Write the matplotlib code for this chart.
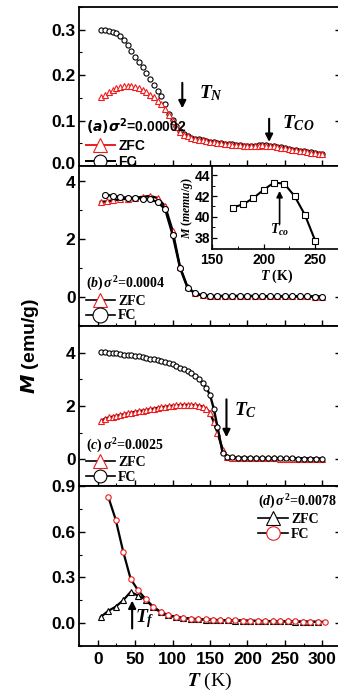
import matplotlib
matplotlib.use('Agg')
import matplotlib.pyplot as plt
import matplotlib.transforms as mtransforms
from matplotlib.ticker import MultipleLocator, FixedLocator
from matplotlib.font_manager import FontProperties

plt.rcParams['font.family'] = ['Liberation Sans', 'DejaVu Sans']
plt.rcParams['font.weight'] = 'bold'
plt.rcParams['mathtext.fontset'] = 'custom'
plt.rcParams['mathtext.rm'] = 'Liberation Serif:bold'
plt.rcParams['mathtext.it'] = 'Liberation Serif:italic:bold'
plt.rcParams['mathtext.bf'] = 'Liberation Serif:bold'

RED = '#ee1c1c'

# ---------------- data ----------------
# (a) sigma^2 = 0.00002
T_a = [5, 10, 15, 20, 25, 30, 35, 40, 45, 50, 55, 60, 65, 70, 75, 80, 85, 90, 95, 100,
       105, 110, 115, 120, 125, 130, 135, 140, 145, 150, 155, 160, 165, 170, 175, 180, 185, 190, 195, 200,
       205, 210, 215, 220, 225, 230, 235, 240, 245, 250, 255, 260, 265, 270, 275, 280, 285, 290, 295, 300]
FC_a = [0.300, 0.299, 0.298, 0.296, 0.293, 0.286, 0.277, 0.266, 0.253, 0.241,
        0.229, 0.218, 0.204, 0.191, 0.178, 0.166, 0.153, 0.136, 0.115, 0.102,
        0.087, 0.076, 0.070, 0.066, 0.062, 0.060, 0.059, 0.058, 0.055, 0.053,
        0.052, 0.051, 0.050, 0.049, 0.048, 0.048, 0.047, 0.046, 0.045, 0.045,
        0.044, 0.045, 0.046, 0.046, 0.046, 0.045, 0.043, 0.042, 0.041, 0.039,
        0.038, 0.036, 0.035, 0.034, 0.032, 0.031, 0.030, 0.028, 0.027, 0.026]
ZFC_a = [0.152, 0.157, 0.162, 0.167, 0.171, 0.174, 0.176, 0.177, 0.176, 0.174,
         0.171, 0.168, 0.163, 0.157, 0.151, 0.144, 0.136, 0.125, 0.113, 0.100,
         0.086, 0.075, 0.069, 0.065, 0.061, 0.059, 0.058, 0.057, 0.055, 0.053,
         0.052, 0.051, 0.050, 0.049, 0.048, 0.047, 0.046, 0.046, 0.045, 0.044,
         0.044, 0.045, 0.045, 0.046, 0.045, 0.044, 0.043, 0.041, 0.040, 0.039,
         0.037, 0.036, 0.035, 0.033, 0.032, 0.031, 0.029, 0.028, 0.027, 0.026]

# (b) sigma^2 = 0.0004
T_b_fc = [10, 20, 30, 40, 50, 60, 70, 80, 90, 100, 110, 120, 130, 140, 150,
          160, 170, 180, 190, 200, 210, 220, 230, 240, 250, 260, 270, 280, 290, 300]
FC_b = [3.52, 3.47, 3.43, 3.41, 3.40, 3.38, 3.35, 3.26, 3.02, 2.14,
        1.00, 0.32, 0.12, 0.05, 0.03, 0.03, 0.03, 0.03, 0.03, 0.03,
        0.03, 0.02, 0.02, 0.02, 0.02, 0.02, 0.02, 0.02, 0.01, 0.01]
T_b_zfc = [4, 12, 20, 30, 40, 50, 60, 70, 80, 90, 100, 110, 120, 130, 140, 150,
           160, 170, 180, 190, 200, 210, 220, 230, 240, 250, 260, 270, 280, 290, 300]
ZFC_b = [3.27, 3.28, 3.32, 3.35, 3.38, 3.41, 3.44, 3.47, 3.40, 3.12, 2.28,
         1.02, 0.33, 0.12, 0.05, 0.03, 0.03, 0.03, 0.03, 0.03, 0.03,
         0.03, 0.02, 0.02, 0.02, 0.02, 0.02, 0.02, 0.02, 0.01, 0.01]

# inset of (b)
T_in = [170, 180, 190, 200, 210, 220, 230, 240, 250]
M_in = [40.9, 41.2, 41.8, 42.6, 43.3, 43.2, 42.0, 40.2, 37.7]

# (c) sigma^2 = 0.0025
T_c = [5, 10, 15, 20, 25, 30, 35, 40, 45, 50, 55, 60, 65, 70, 75, 80, 85, 90, 95, 100,
       105, 110, 115, 120, 125, 130, 135, 140, 145, 150, 155, 160, 167, 173,
       180, 188, 196, 204, 212, 220, 228, 236, 244, 252, 260, 268, 276, 284, 292, 300]
FC_c = [4.02, 4.01, 4.00, 3.98, 3.97, 3.95, 3.93, 3.92, 3.90, 3.88,
        3.86, 3.84, 3.81, 3.78, 3.75, 3.72, 3.69, 3.65, 3.61, 3.57,
        3.51, 3.44, 3.37, 3.30, 3.22, 3.12, 3.02, 2.87, 2.68, 2.42,
        1.90, 1.22, 0.22, 0.10,
        0.07, 0.06, 0.06, 0.05, 0.05, 0.05, 0.05, 0.04, 0.04, 0.04, 0.04, 0.03, 0.03, 0.03, 0.03, 0.02]
ZFC_c = [1.45, 1.53, 1.57, 1.60, 1.63, 1.66, 1.69, 1.72, 1.75, 1.78,
         1.80, 1.83, 1.85, 1.88, 1.90, 1.93, 1.95, 1.97, 1.99, 2.01,
         2.02, 2.03, 2.04, 2.04, 2.04, 2.03, 2.01, 1.98, 1.90, 1.75,
         1.40, 1.00, 0.36, 0.10,
         0.06, 0.05, 0.05, 0.05, 0.04, 0.04, 0.04, 0.04, 0.03, 0.03, 0.03, 0.03, 0.03, 0.02, 0.02, 0.02]

# (d) sigma^2 = 0.0078
T_d_fc = [14, 24, 34, 44, 54, 64, 74, 84, 94, 104, 114, 124, 134, 144, 154,
          164, 174, 184, 194, 204, 214, 224, 234, 244, 254, 264, 274, 284, 294, 304]
FC_d = [0.83, 0.68, 0.47, 0.29, 0.215, 0.158, 0.107, 0.074, 0.053, 0.042,
        0.035, 0.030, 0.026, 0.024, 0.022, 0.020, 0.019, 0.018, 0.017, 0.016,
        0.015, 0.014, 0.013, 0.012, 0.012, 0.011, 0.010, 0.010, 0.009, 0.008]
T_d_zfc = [4, 14, 24, 34, 44, 54, 64, 74, 84, 94, 104, 114, 124, 134, 144,
           154, 164, 174, 184, 194, 204, 214, 224, 234, 244, 254, 264, 274, 284, 294]
ZFC_d = [0.040, 0.080, 0.108, 0.150, 0.205, 0.180, 0.155, 0.105, 0.072, 0.051,
         0.040, 0.033, 0.028, 0.025, 0.023, 0.021, 0.019, 0.018, 0.017, 0.016,
         0.015, 0.014, 0.013, 0.012, 0.011, 0.011, 0.010, 0.009, 0.009, 0.008]

titles = [r'$(a)\sigma^{2}$=0.00002', r'$(b)\,\sigma^{2}$=0.0004',
          r'$(c)\,\sigma^{2}$=0.0025', r'$(d)\,\sigma^{2}$=0.0078']
ylims = [(0, 0.35), (-1, 4.5), (-1, 5), (-0.15, 0.9)]
yticks = [[0.0, 0.1, 0.2, 0.3], [0, 2, 4], [0, 2, 4], [0.0, 0.3, 0.6, 0.9]]
yticklabels = [['0.0', '0.1', '0.2', '0.3'], ['0', '2', '4'], ['0', '2', '4'],
               ['0.0', '0.3', '0.6', '0.9']]
yminor = [0.05, 1, 1, 0.15]

# ---------------- figure ----------------
W_PX, H_PX = 338, 698
fig = plt.figure(figsize=(W_PX / 100, H_PX / 100), dpi=100)

left = 79 / W_PX
width = 262 / W_PX
panel_px = [(7, 166), (166, 326), (326, 486), (486, 646)]
axes = []
for (t, b) in panel_px:
    ax = fig.add_axes([left, 1 - b / H_PX, width, (b - t) / H_PX])
    axes.append(ax)

serif_b = FontProperties(family='Liberation Serif', weight='bold', size=10)
sans_b = FontProperties(family='Liberation Sans', weight='bold', size=10)

for i, ax in enumerate(axes):
    ax.set_xlim(-25, 325)
    ax.set_ylim(*ylims[i])
    ax.xaxis.set_major_locator(MultipleLocator(50))
    ax.xaxis.set_minor_locator(MultipleLocator(25))
    ax.yaxis.set_major_locator(FixedLocator(yticks[i]))
    ax.set_yticklabels(yticklabels[i])
    ax.yaxis.set_minor_locator(MultipleLocator(yminor[i]))
    ax.tick_params(axis='both', which='both', direction='in', top=False, right=True)
    ax.tick_params(axis='both', which='major', length=4.5, width=1.0)
    ax.tick_params(axis='both', which='minor', length=2.5, width=0.8)
    ax.tick_params(axis='y', labelsize=12.5, pad=2.5)
    ax.tick_params(axis='x', labelsize=12.5, pad=4)
    for sp in ax.spines.values():
        sp.set_linewidth(1.3)
    if i < 3:
        ax.tick_params(axis='x', labelbottom=False)

ms = 3.7
mew = 0.8


def make_legend(ax, handles, title, anchor, prop, lw, mathfam=None):
    leg = ax.legend(handles=handles, title=title, loc='upper left', bbox_to_anchor=anchor,
                    frameon=False, borderpad=0, borderaxespad=0, handlelength=2.1, handletextpad=0.25,
                    labelspacing=0.12, prop=prop, title_fontproperties=prop, markerscale=2.5)
    leg._legend_box.align = 'left'
    if mathfam:
        leg.get_title().set_math_fontfamily(mathfam)
    for ln in leg.get_lines():
        ln.set_linestyle('-')
        ln.set_linewidth(lw)
    return leg


def arrow(ax, x, y_from, y_to, lw=1.5, ms_=11):
    ax.annotate('', xy=(x, y_to), xytext=(x, y_from),
                arrowprops=dict(arrowstyle='-|>', color='black', lw=lw, mutation_scale=ms_,
                                shrinkA=0, shrinkB=0))


# panel (a): markers only (legend keeps the connecting line)
ax = axes[0]
fa, = ax.plot(T_a, FC_a, 'o', ls='none', color='black', ms=ms, mfc='white', mec='black', mew=mew, label='FC')
za, = ax.plot(T_a, ZFC_a, '^', ls='none', color=RED, ms=ms + 0.3, mfc='white', mec=RED, mew=mew, label='ZFC')
make_legend(ax, [za, fa], titles[0], (0.025, 0.31), sans_b, 1.4, 'dejavusans')
arrow(ax, 113, 0.183, 0.127)
ax.text(135, 0.160, r'$T_{N}$', fontsize=14, ha='left', va='center')
arrow(ax, 229, 0.104, 0.053)
ax.text(246, 0.094, r'$T_{CO}$', fontsize=14, ha='left', va='center')

# panel (b)
ax = axes[1]
zb, = ax.plot(T_b_zfc, ZFC_b, '-^', color='black', lw=1.7, ms=ms + 0.6, mfc='white', mec=RED, mew=mew, label='ZFC')
fb, = ax.plot(T_b_fc, FC_b, '-o', color='black', lw=1.7, ms=ms + 0.6, mfc='white', mec='black', mew=mew, label='FC')
make_legend(ax, [zb, fb], titles[1], (0.025, 0.32), serif_b, 1.2)

# inset
ins = fig.add_axes([212 / W_PX, 1 - 249 / H_PX, 129 / W_PX, 83 / H_PX])
ins.plot(T_in, M_in, '-s', color='black', lw=1.5, ms=3.8, mfc='white', mec='black', mew=0.8)
ins.set_xlim(150, 275)
ins.set_ylim(36.9, 44.9)
ins.xaxis.set_major_locator(FixedLocator([150, 200, 250]))
ins.xaxis.set_minor_locator(FixedLocator([175, 225]))
ins.yaxis.set_major_locator(FixedLocator([38, 40, 42, 44]))
ins.yaxis.set_minor_locator(FixedLocator([39, 41, 43]))
ins.tick_params(axis='both', which='both', direction='in', top=False, right=False)
ins.tick_params(axis='both', which='major', length=3.5, width=0.9)
ins.tick_params(axis='both', which='minor', length=2, width=0.7)
ins.tick_params(axis='x', labelsize=10, pad=3)
ins.tick_params(axis='y', labelsize=10, pad=1)
for sp in ins.spines.values():
    sp.set_linewidth(1.2)
ins.set_xlabel(r'$T$ (K)', fontproperties=FontProperties(family='Liberation Serif', weight='bold', size=10), labelpad=0)
ins.set_ylabel(r'$M$ $(memu/g)$', fontproperties=FontProperties(family='Liberation Serif', weight='bold', size=8.5), labelpad=0)
arrow(ins, 215.5, 39.3, 42.5, lw=1.2, ms_=9)
ins.text(216, 38.7, r'$T_{co}$', fontsize=10, ha='center', va='center')

# panel (c)
ax = axes[2]
zc, = ax.plot(T_c, ZFC_c, '-^', color='black', lw=1.7, ms=ms + 0.3, mfc='white', mec=RED, mew=mew, label='ZFC')
fc, = ax.plot(T_c, FC_c, '-o', color='black', lw=1.7, ms=ms, mfc='white', mec='black', mew=mew, label='FC')
make_legend(ax, [zc, fc], titles[2], (0.025, 0.31), serif_b, 1.2)
arrow(ax, 172, 2.25, 0.83)
ax.text(182, 1.85, r'$T_{C}$', fontsize=14, ha='left', va='center')

# panel (d)
ax = axes[3]
zd, = ax.plot(T_d_zfc, ZFC_d, '-^', color='black', lw=1.6, ms=ms + 0.3, mfc='white', mec='black', mew=mew, label='ZFC')
fd, = ax.plot(T_d_fc, FC_d, '-o', color='black', lw=1.6, ms=ms + 0.2, mfc='white', mec=RED, mew=mew, label='FC')
make_legend(ax, [zd, fd], titles[3], (0.685, 0.955), serif_b, 1.2)
arrow(ax, 46, -0.035, 0.148)
ax.text(50, 0.03, r'$T_{f}$', fontsize=14, ha='left', va='center')
ax.set_xlabel(r'$T$ (K)', fontproperties=FontProperties(family='Liberation Serif', weight='normal', size=14),
              labelpad=3, math_fontfamily='stix')

ylab = fig.text(30 / W_PX, 1 - 346 / H_PX, r'$\mathbfit{M}$ (emu/g)', rotation=90, ha='center', va='center',
                fontsize=14, fontweight='bold', family='Liberation Sans', math_fontfamily='dejavusans')
try:
    fig.canvas.draw()
except Exception:
    ylab.set_text(r'$M$ (emu/g)')
    fig.canvas.draw()

# nudge the "0.0" label of panel (a) up, as in the original, away from the "4" of panel (b)
lab0 = axes[0].yaxis.get_major_ticks()[0].label1
lab0.set_transform(lab0.get_transform() + mtransforms.ScaledTranslation(0, 3 / 100, fig.dpi_scale_trans))
lab4 = axes[1].yaxis.get_major_ticks()[2].label1
lab4.set_transform(lab4.get_transform() + mtransforms.ScaledTranslation(0, -1 / 100, fig.dpi_scale_trans))

fig.savefig('out.png', dpi=100)
